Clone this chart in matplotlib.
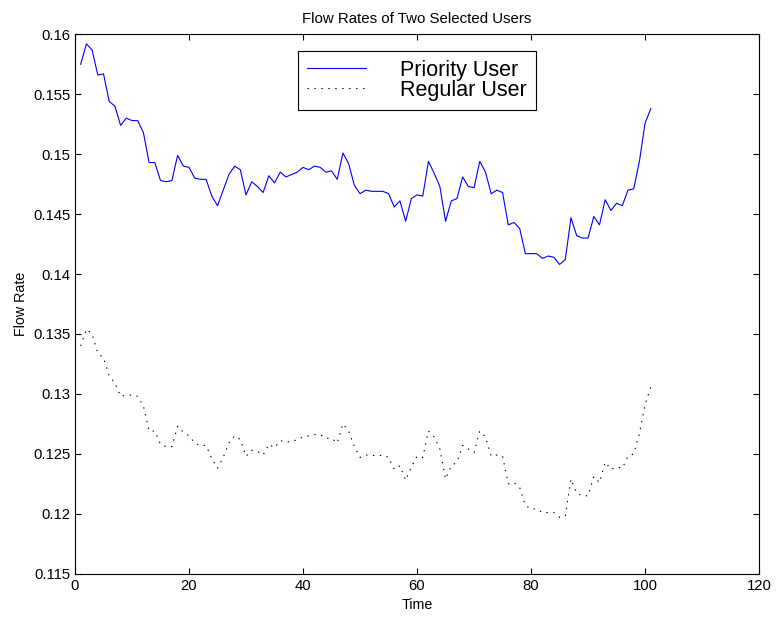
import matplotlib
matplotlib.use("Agg")
import matplotlib.pyplot as plt
from matplotlib.ticker import FuncFormatter

plt.rcParams['font.family'] = ['Liberation Sans', 'DejaVu Sans']
plt.rcParams['lines.scale_dashes'] = False

# time steps 1..101
times = list(range(1, 102))

# flow rate of the priority user (solid blue)
priority = [
    0.1575, 0.1592, 0.1587, 0.1566, 0.1567, 0.1544, 0.1540, 0.1524, 0.1530, 0.1528,
    0.1528, 0.1518, 0.1493, 0.1493, 0.1478, 0.1477, 0.1478, 0.1499, 0.1490, 0.1489,
    0.1480, 0.1479, 0.1479, 0.1465, 0.1457, 0.1470, 0.1483, 0.1490, 0.1487, 0.1466,
    0.1477, 0.1473, 0.1468, 0.1482, 0.1476, 0.1485, 0.1481, 0.1483, 0.1485, 0.1489,
    0.1487, 0.1490, 0.1489, 0.1485, 0.1486, 0.1479, 0.1501, 0.1492, 0.1474, 0.1467,
    0.1470, 0.1469, 0.1469, 0.1469, 0.1467, 0.1456, 0.1461, 0.1444, 0.1463, 0.1466,
    0.1465, 0.1494, 0.1484, 0.1473, 0.1444, 0.1461, 0.1463, 0.1481, 0.1473, 0.1472,
    0.1494, 0.1485, 0.1467, 0.1470, 0.1468, 0.1441, 0.1443, 0.1438, 0.1417, 0.1417,
    0.1417, 0.1413, 0.1415, 0.1414, 0.1408, 0.1412, 0.1447, 0.1432, 0.1430, 0.1430,
    0.1448, 0.1441, 0.1462, 0.1453, 0.1459, 0.1457, 0.1470, 0.1471, 0.1494, 0.1526,
    0.1538,
]

# flow rate of the regular user (black dotted)
regular = [
    0.1340, 0.1354, 0.1350, 0.1334, 0.1330, 0.1315, 0.1309, 0.1298, 0.1299, 0.1299,
    0.1298, 0.1290, 0.1269, 0.1269, 0.1258, 0.1256, 0.1256, 0.1273, 0.1268, 0.1265,
    0.1259, 0.1257, 0.1257, 0.1246, 0.1238, 0.1247, 0.1259, 0.1265, 0.1262, 0.1248,
    0.1253, 0.1252, 0.1249, 0.1258, 0.1255, 0.1261, 0.1260, 0.1260, 0.1262, 0.1264,
    0.1265, 0.1266, 0.1266, 0.1263, 0.1263, 0.1259, 0.1275, 0.1269, 0.1256, 0.1247,
    0.1249, 0.1249, 0.1248, 0.1249, 0.1247, 0.1237, 0.1240, 0.1228, 0.1239, 0.1248,
    0.1247, 0.1269, 0.1264, 0.1254, 0.1229, 0.1240, 0.1243, 0.1257, 0.1254, 0.1251,
    0.1269, 0.1264, 0.1248, 0.1249, 0.1248, 0.1225, 0.1226, 0.1222, 0.1207, 0.1204,
    0.1204, 0.1201, 0.1201, 0.1201, 0.1197, 0.1198, 0.1229, 0.1217, 0.1215, 0.1215,
    0.1231, 0.1226, 0.1243, 0.1237, 0.1239, 0.1238, 0.1248, 0.1250, 0.1267, 0.1291,
    0.1306,
]

fig = plt.figure(figsize=(7.77, 6.19), dpi=100)
ax = fig.add_axes([0.0965, 0.0732, 0.8805, 0.8714])

ax.plot(times, priority, color='#0000ff', lw=0.8, label='Priority User')
ax.plot(times, regular, color='black', lw=0.8, linestyle=(0, (1, 4)), label='Regular User')

ax.set_xlim(0, 120)
ax.set_ylim(0.115, 0.16)
ax.set_xticks([0, 20, 40, 60, 80, 100, 120])
ax.set_yticks([0.115, 0.12, 0.125, 0.13, 0.135, 0.14, 0.145, 0.15, 0.155, 0.16])
ax.yaxis.set_major_formatter(FuncFormatter(lambda v, p: '%g' % round(v, 4)))
ax.tick_params(direction='in', top=True, right=True, length=4.5, width=0.8, labelsize=10.7)
ax.tick_params(axis='x', pad=4)
ax.tick_params(axis='y', pad=3)
for s in ax.spines.values():
    s.set_linewidth(0.8)

ax.set_title('Flow Rates of Two Selected Users', fontsize=10.8, pad=8)
ax.set_xlabel('Time', fontsize=10.3, labelpad=3.5)
ax.set_ylabel('Flow Rate', fontsize=10.3, labelpad=4)

leg = ax.legend(loc='upper center', bbox_to_anchor=(0.5, 1 - 16.7 / 539.4), borderaxespad=0,
                fontsize=15.5, fancybox=False, edgecolor='black', framealpha=1,
                handlelength=2.7, handletextpad=1.6, labelspacing=-0.05, borderpad=0.42)
leg.get_frame().set_linewidth(0.8)

fig.savefig('out.png', dpi=100)
